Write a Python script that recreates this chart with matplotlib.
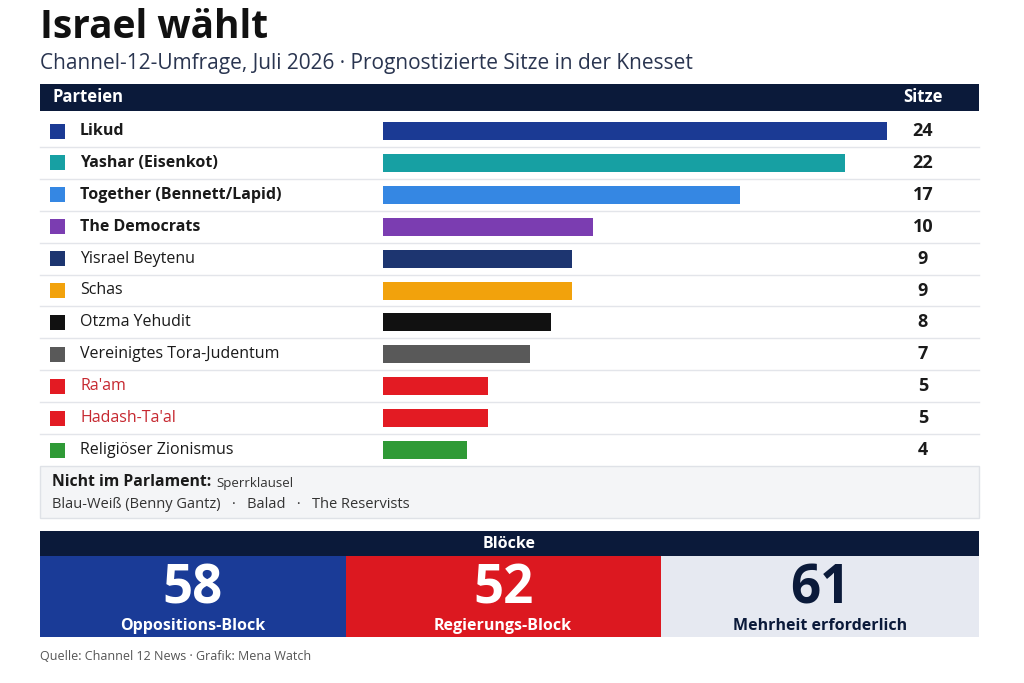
import matplotlib.pyplot as plt
from matplotlib.patches import Rectangle

plt.rcParams['font.family'] = ['Open Sans', 'DejaVu Sans']

# data
parties = ["Likud", "Yashar (Eisenkot)", "Together (Bennett/Lapid)", "The Democrats",
           "Yisrael Beytenu", "Schas", "Otzma Yehudit", "Vereinigtes Tora-Judentum",
           "Ra'am", "Hadash-Ta'al", "Religiöser Zionismus"]
seats = [24, 22, 17, 10, 9, 9, 8, 7, 5, 5, 4]
colors = ["#1b3a94", "#17a0a3", "#3587e3", "#7b3db1", "#1d3570", "#f2a20c",
          "#111111", "#595959", "#e31b23", "#e31b23", "#2f9a36"]
bold_rows = [True, True, True, True, False, False, False, False, False, False, False]
red_label = [False] * 8 + [True, True, False]

not_in_parl = ["Blau-Weiß (Benny Gantz)", "Balad", "The Reservists"]

block_values = [58, 52, 61]
block_labels = ["Oppositions-Block", "Regierungs-Block", "Mehrheit erforderlich"]
block_colors = ["#1a3b97", "#dc1820", "#e6e9f1"]
block_text = ["white", "white", "#0b1a3a"]

NAVY = "#0b1a3a"
W, H = 1024, 683

fig = plt.figure(figsize=(W / 100, H / 100), dpi=100)
ax = fig.add_axes([0, 0, 1, 1])
ax.set_xlim(0, W)
ax.set_ylim(H, 0)
ax.axis('off')

# title
ax.text(40, 27, "Israel wählt", fontsize=28, fontweight='bold', color="#111111", va='center')
ax.text(40, 64, "Channel-12-Umfrage, Juli 2026 · Prognostizierte Sitze in der Knesset",
        fontsize=15, color="#2a3550", va='center')

# table header
left, right = 40, 979
ax.add_patch(Rectangle((left, 84), right - left, 27, color=NAVY, lw=0))
ax.text(52, 97.5, "Parteien", fontsize=12, fontweight='bold', color='white', va='center')
ax.text(923, 97.5, "Sitze", fontsize=12, fontweight='bold', color='white', va='center', ha='center')

row0, step = 131, 31.9
row_y = [row0 + step * i for i in range(len(parties))]

for i, (name, c) in enumerate(zip(parties, colors)):
    y = row_y[i]
    ax.add_patch(Rectangle((50, y - 7.5), 15, 15, color=c, lw=0))
    ax.text(80, y, name, fontsize=11.5, fontweight='bold' if bold_rows[i] else 'normal',
            color="#c62830" if red_label[i] else "#1a1a1a", va='center')
    ax.text(923, y, str(seats[i]), fontsize=13, fontweight='bold', color="#1a1a1a",
            va='center', ha='center')
    if i < len(parties) - 1:
        ax.plot([left, right], [y + step / 2, y + step / 2], color="#e3e5ea", lw=1)

# bars
axb = fig.add_axes([383 / W, 0, 504 / W, 1])
axb.set_xlim(0, max(seats))
axb.set_ylim(H, 0)
axb.axis('off')
axb.barh(row_y, seats, height=18, color=colors)

# not in parliament box
ax.add_patch(Rectangle((left, 466), right - left, 52, facecolor="#f4f5f7",
                       edgecolor="#dfe2e7", lw=1))
ax.text(52, 482, "Nicht im Parlament:", fontsize=11.3, fontweight='bold', color="#1a1a1a",
        va='center')
ax.text(216, 483, "Sperrklausel", fontsize=9.5, color="#333333", va='center')
ax.text(52, 504, "   ·   ".join(not_in_parl), fontsize=10.5, color="#333333", va='center')

# blocks
ax.add_patch(Rectangle((left, 531), right - left, 25, color=NAVY, lw=0))
ax.text((left + right) / 2, 544, "Blöcke", fontsize=11.5, fontweight='bold', color='white',
        va='center', ha='center')
edges = [40, 345.5, 660.5, 979]
for i, v in enumerate(block_values):
    x0, x1 = edges[i], edges[i + 1]
    ax.add_patch(Rectangle((x0, 556), x1 - x0, 81, color=block_colors[i], lw=0))
    cx = (x0 + x1) / 2
    ax.text(cx, 603, str(v), fontsize=38, fontweight='bold', color=block_text[i],
            va='baseline', ha='center')
    ax.text(cx, 626, block_labels[i], fontsize=11.5, fontweight='bold', color=block_text[i],
            va='center', ha='center')

ax.text(40, 656, "Quelle: Channel 12 News · Grafik: Mena Watch", fontsize=9,
        color="#555555", va='center')

fig.savefig("out.png", dpi=100, facecolor='white')
